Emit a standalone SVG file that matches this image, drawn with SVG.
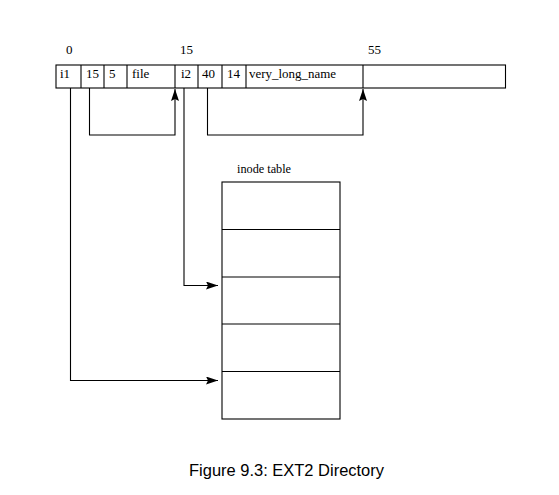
<svg xmlns="http://www.w3.org/2000/svg" width="559" height="495" viewBox="0 0 559 495">
<style>
.ln{fill:none;stroke:#000;stroke-width:1.1}
.t{font-family:"Liberation Serif",serif;font-size:13px;fill:#000}
.s{font-family:"Liberation Serif",serif;font-size:12px;fill:#000}
.cap{font-family:"Liberation Sans",Arial,sans-serif;font-size:16px;fill:#000}
.ah{fill:#000;stroke:none}
</style>
<defs>
<marker id="arr" viewBox="0 0 12 8" refX="12" refY="4" markerWidth="12" markerHeight="8" markerUnits="userSpaceOnUse" orient="auto">
<path d="M0,0 L12,4 L0,8 L2,4 Z" class="ah"/>
</marker>
</defs>
<rect width="559" height="495" fill="#fff"/>
<g id="offsets">
<text class="t" x="66" y="54">0</text>
<text class="t" x="180" y="54">15</text>
<text class="t" x="368" y="54">55</text>
</g>
<g id="directory">
<rect class="ln" x="56" y="65" width="449.5" height="23"/>
<line class="ln" x1="81" y1="65" x2="81" y2="88"/>
<line class="ln" x1="104" y1="65" x2="104" y2="88"/>
<line class="ln" x1="127" y1="65" x2="127" y2="88"/>
<line class="ln" x1="175" y1="65" x2="175" y2="88"/>
<line class="ln" x1="198" y1="65" x2="198" y2="88"/>
<line class="ln" x1="222" y1="65" x2="222" y2="88"/>
<line class="ln" x1="246" y1="65" x2="246" y2="88"/>
<line class="ln" x1="363" y1="65" x2="363" y2="88"/>
<text class="t" x="60" y="78">i1</text>
<text class="t" x="86" y="78">15</text>
<text class="t" x="109" y="78">5</text>
<text class="t" x="132" y="78">file</text>
<text class="t" x="181" y="78">i2</text>
<text class="t" x="202" y="78">40</text>
<text class="t" x="227" y="78">14</text>
<text class="t" x="249" y="78" textLength="87" lengthAdjust="spacingAndGlyphs">very_long_name</text>
</g>
<g id="inode-table">
<text class="s" x="237" y="173" textLength="54" lengthAdjust="spacingAndGlyphs">inode table</text>
<rect class="ln" x="222" y="182" width="118" height="237"/>
<line class="ln" x1="222" y1="229.5" x2="340" y2="229.5"/>
<line class="ln" x1="222" y1="277" x2="340" y2="277"/>
<line class="ln" x1="222" y1="324" x2="340" y2="324"/>
<line class="ln" x1="222" y1="371.5" x2="340" y2="371.5"/>
</g>
<g id="connectors">
<polyline class="ln" points="89.5,88 89.5,135 175,135 175,89" marker-end="url(#arr)"/>
<polyline class="ln" points="207.5,88 207.5,135 363,135 363,89" marker-end="url(#arr)"/>
<polyline class="ln" points="184,88 184,285.5 218,285.5" marker-end="url(#arr)"/>
<polyline class="ln" points="70.5,88 70.5,380.5 218,380.5" marker-end="url(#arr)"/>
</g>
<text class="cap" x="189" y="476" textLength="195" lengthAdjust="spacingAndGlyphs">Figure 9.3: EXT2 Directory</text>
</svg>
